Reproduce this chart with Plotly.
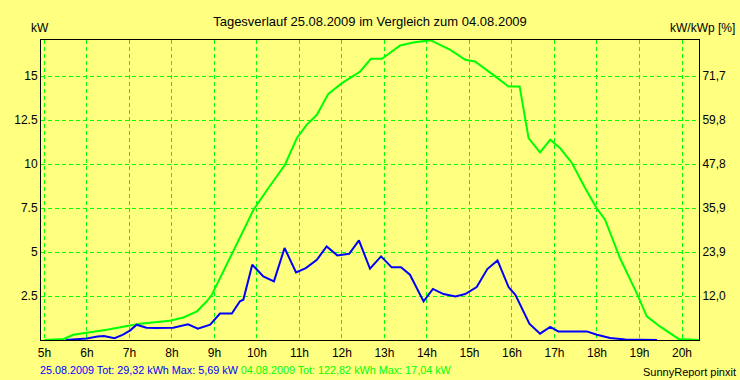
import plotly.graph_objects as go

# 25.08.2009 (blue) - hours, kW
blue_h = [5.5, 6.0, 6.25, 6.4, 6.65, 6.85, 7.02, 7.17, 7.4, 7.6, 8.03, 8.2, 8.38, 8.61, 8.9,
          9.13, 9.41, 9.6, 9.68, 9.89, 10.15, 10.4, 10.65, 10.92, 11.15, 11.41, 11.64, 11.89,
          12.17, 12.4, 12.66, 12.92, 13.17, 13.39, 13.6, 13.92, 14.14, 14.39, 14.67, 14.9,
          15.17, 15.42, 15.66, 15.92, 16.08, 16.41, 16.66, 16.9, 17.09, 17.76, 18.0, 18.31,
          18.67, 19.41]
blue_kw = [0.0, 0.09, 0.2, 0.23, 0.1, 0.3, 0.55, 0.87, 0.7, 0.68, 0.7, 0.8, 0.89, 0.64, 0.87,
           1.5, 1.5, 2.2, 2.29, 4.28, 3.61, 3.33, 5.23, 3.84, 4.09, 4.56, 5.32, 4.81,
           4.9, 5.66, 4.05, 4.75, 4.13, 4.13, 3.71, 2.19, 2.9, 2.61, 2.48, 2.61,
           3.01, 4.03, 4.52, 3.01, 2.57, 0.93, 0.36, 0.74, 0.49, 0.49, 0.3, 0.11,
           0.03, 0.0]

# 04.08.2009 (green) - hours, kW
green_h = [5.0, 5.45, 5.68, 6.0, 6.47, 6.98, 7.25, 7.95, 8.27, 8.59, 8.82, 8.94, 9.41, 9.92,
           10.27, 10.66, 10.94, 11.17, 11.41, 11.68, 12.0, 12.43, 12.68, 12.94, 13.37, 13.68,
           14.08, 14.31, 14.55, 14.9, 15.13, 15.56, 15.92, 16.18, 16.39, 16.66, 16.9, 17.13,
           17.41, 17.72, 17.99, 18.19, 18.54, 18.97, 19.17, 19.48, 19.92, 20.4]
green_kw = [0.0, 0.06, 0.3, 0.4, 0.58, 0.81, 0.93, 1.1, 1.28, 1.63, 2.2, 2.57, 4.85, 7.4,
            8.64, 9.96, 11.48, 12.23, 12.8, 13.99, 14.6, 15.26, 15.98, 15.98, 16.74, 16.91,
            17.04, 16.78, 16.49, 15.93, 15.83, 15.07, 14.41, 14.41, 11.48, 10.66, 11.38, 10.91,
            10.06, 8.64, 7.5, 6.84, 4.66, 2.48, 1.34, 0.77, 0.06, 0.0]

x_ticks = list(range(5, 21))
x_labels = [f"{h}h" for h in x_ticks]
y_ticks = [2.5, 5, 7.5, 10, 12.5, 15]
y_labels = ["2.5", "5", "7.5", "10", "12.5", "15"]
y2_labels = ["12,0", "23,9", "35,9", "47,8", "59,8", "71,7"]

BG = "#FFFF80"
GRID = "#00FF00"
FONT = "Liberation Sans, Arial, sans-serif"

fig = go.Figure()
fig.add_trace(go.Scatter(x=green_h, y=green_kw, mode="lines",
                         line=dict(color="#00FF00", width=2), showlegend=False))
fig.add_trace(go.Scatter(x=blue_h, y=blue_kw, mode="lines",
                         line=dict(color="#0000FF", width=2), showlegend=False))
fig.add_trace(go.Scatter(x=[None], y=[None], yaxis="y2", showlegend=False, hoverinfo="skip"))

fig.update_layout(
    width=740, height=380,
    paper_bgcolor=BG, plot_bgcolor=BG,
    margin=dict(l=41, r=41, t=40, b=40),
    font=dict(family=FONT, size=12, color="black"),
    title=dict(text="Tagesverlauf 25.08.2009 im Vergleich zum 04.08.2009",
               x=0.5, xanchor="center", y=1 - 21 / 380, yanchor="middle",
               font=dict(size=13, family=FONT, color="black")),
    xaxis=dict(range=[4.92, 20.4], tickvals=x_ticks, ticktext=x_labels,
               showgrid=True, gridcolor=GRID, griddash="4px,3px", gridwidth=1,
               showline=True, linecolor="black", linewidth=1, mirror=True,
               zeroline=False, ticks="", tickfont=dict(size=12), ticklabelstandoff=2),
    yaxis=dict(range=[0, 17.05], tickvals=y_ticks, ticktext=y_labels,
               showgrid=True, gridcolor=GRID, griddash="4px,3px", gridwidth=1,
               showline=True, linecolor="black", linewidth=1, mirror=True,
               zeroline=False, ticks="", tickfont=dict(size=12)),
    yaxis2=dict(range=[0, 17.05], tickvals=y_ticks, ticktext=y2_labels,
                overlaying="y", side="right", showgrid=False, zeroline=False,
                showline=True, linecolor="black", linewidth=1, ticks="",
                tickfont=dict(size=12)),
    annotations=[
        dict(text="kW", xref="paper", yref="paper", x=(40 - 41) / 658, y=(340 - 28) / 300,
             xanchor="center", yanchor="middle", showarrow=False, font=dict(size=12)),
        dict(text="kW/kWp [%]", xref="paper", yref="paper", x=(737 - 41) / 658,
             y=(340 - 28) / 300, xanchor="right", yanchor="middle", showarrow=False,
             font=dict(size=12)),
        dict(text="<span style='color:#0000FF'>25.08.2009 Tot: 29,32 kWh Max: 5,69 kW</span> "
                  "<span style='color:#00FF00'>04.08.2009 Tot: 122,82 kWh Max: 17,04 kW</span>",
             xref="paper", yref="paper", x=(38 - 41) / 658, y=(340 - 369.5) / 300,
             xanchor="left", yanchor="middle", showarrow=False, font=dict(size=10.8)),
        dict(text="SunnyReport pinxit", xref="paper", yref="paper", x=(738 - 41) / 658,
             y=(340 - 371.5) / 300, xanchor="right", yanchor="middle", showarrow=False,
             font=dict(size=11)),
    ],
)

fig.write_html("out.html", config={"displayModeBar": False},
               post_script="document.body.style.margin='0';document.body.style.overflow='hidden';")
